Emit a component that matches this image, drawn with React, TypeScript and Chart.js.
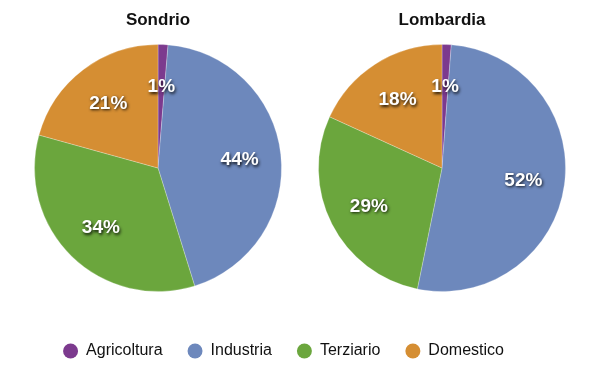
import React, { useEffect, useRef } from "react";
import { Chart, registerables } from "chart.js";

Chart.register(...registerables);

const categories = ["Agricoltura", "Industria", "Terziario", "Domestico"];
const sondrioValues = [1.3, 43.9, 34.1, 20.7];
const lombardiaValues = [1.2, 52.0, 28.6, 18.2];
const colors = ["#7c3a8e", "#6d88bc", "#6ba63d", "#d58e33"];
const titles = ["Sondrio", "Lombardia"];

const FONT = '"Liberation Sans", Arial, Helvetica, sans-serif';

const pctLabels = {
  id: "pctLabels",
  afterDatasetsDraw(chart: any) {
    const ctx = chart.ctx;
    const meta = chart.getDatasetMeta(0);
    const data = chart.data.datasets[0].data as number[];
    ctx.save();
    ctx.font = `bold 19px ${FONT}`;
    ctx.fillStyle = "#ffffff";
    ctx.textAlign = "center";
    ctx.textBaseline = "middle";
    ctx.shadowColor = "rgba(0,0,0,0.85)";
    ctx.shadowBlur = 3;
    ctx.shadowOffsetX = 1;
    ctx.shadowOffsetY = 1.5;
    meta.data.forEach((arc: any, i: number) => {
      const { x, y, startAngle, endAngle, outerRadius } = arc.getProps([
        "x",
        "y",
        "startAngle",
        "endAngle",
        "outerRadius",
      ]);
      const mid = (startAngle + endAngle) / 2;
      const r = outerRadius * 0.665;
      ctx.fillText(Math.round(data[i]) + "%", x + Math.cos(mid) * r, y + Math.sin(mid) * r + 1);
    });
    ctx.restore();
  },
};

function PieChart({ title, values, padLeft, padRight }: { title: string; values: number[]; padLeft: number; padRight: number }) {
  const ref = useRef<HTMLCanvasElement>(null);
  useEffect(() => {
    if (!ref.current) return;
    const chart = new Chart(ref.current, {
      type: "pie",
      data: {
        labels: categories,
        datasets: [
          {
            data: values,
            backgroundColor: colors,
            borderColor: "rgba(255,255,255,0.25)",
            borderWidth: 1,
          },
        ],
      },
      options: {
        responsive: false,
        animation: false,
        events: [],
        layout: { padding: { left: padLeft, right: padRight, top: 0, bottom: 8 } },
        plugins: {
          legend: { display: false },
          tooltip: { enabled: false },
          title: {
            display: true,
            text: title,
            color: "#111111",
            font: { family: FONT, size: 17, weight: "bold" },
            padding: { top: 10, bottom: 13.6 },
          },
        },
      },
      plugins: [pctLabels],
    });
    return () => chart.destroy();
  }, []);
  return <canvas ref={ref} width={300} height={300} />;
}

function LegendChart() {
  const ref = useRef<HTMLCanvasElement>(null);
  useEffect(() => {
    if (!ref.current) return;
    const chart = new Chart(ref.current, {
      type: "pie",
      data: {
        labels: categories,
        datasets: [{ data: sondrioValues, backgroundColor: colors, borderWidth: 0 }],
      },
      options: {
        responsive: false,
        animation: false,
        events: [],
        radius: 0,
        layout: { padding: { left: 0, right: 33, top: 0, bottom: 0 } },
        plugins: {
          tooltip: { enabled: false },
          legend: {
            display: true,
            position: "top",
            onClick: () => {},
            labels: {
              usePointStyle: true,
              pointStyle: "circle",
              boxWidth: 15,
              boxHeight: 10.6,
              padding: 25,
              color: "#111111",
              font: { family: FONT, size: 16 },
            },
          },
        },
      } as any,
    });
    return () => chart.destroy();
  }, []);
  return <canvas ref={ref} width={600} height={120} />;
}

export default function App() {
  return (
    <div style={{ position: "fixed", left: 0, top: 0, width: 600, height: 369, background: "#ffffff", overflow: "hidden" }}>
      <div style={{ position: "absolute", left: 0, top: 0 }}>
        <PieChart title={titles[0]} values={sondrioValues} padLeft={16} padRight={0} />
      </div>
      <div style={{ position: "absolute", left: 300, top: 0 }}>
        <PieChart title={titles[1]} values={lombardiaValues} padLeft={0} padRight={16} />
      </div>
      <div style={{ position: "absolute", left: 0, top: 318 }}>
        <LegendChart />
      </div>
    </div>
  );
}
